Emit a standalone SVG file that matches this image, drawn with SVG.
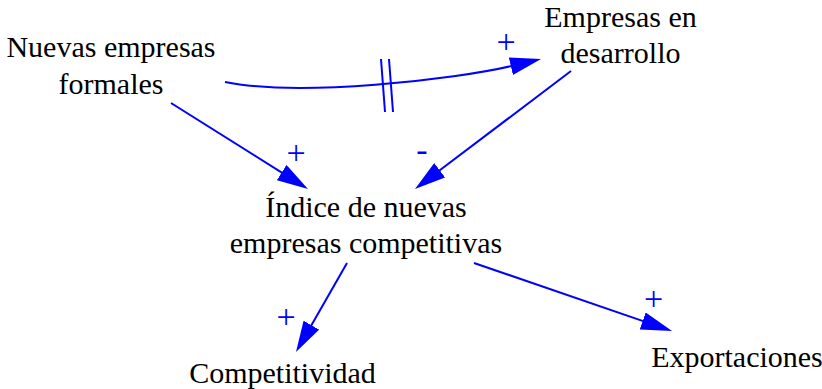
<svg xmlns="http://www.w3.org/2000/svg" width="822" height="389" viewBox="0 0 822 389">
<style>
.lbl{font-size:30px;fill:#000;text-anchor:middle}
.pol{font-size:34px;fill:#0000ff;text-anchor:middle}
.lnk{fill:none;stroke:#0000ff;stroke-width:2;marker-end:url(#ah)}
.dly{stroke:#0000ff;stroke-width:2}
</style>
<defs>
<marker id="ah" markerUnits="userSpaceOnUse" markerWidth="32" markerHeight="18" refX="2" refY="9" orient="auto" viewBox="0 0 32 18">
<path d="M0,0 L31,9 L0,18 z" fill="#0000ff"/>
</marker>
</defs>
<rect width="822" height="389" fill="#fff"/>
<g id="connectors" font-family="'Liberation Serif', 'Times New Roman', Times, serif">
<path class="lnk" d="M225,82 C300,97 454.4,79.6 512.8,65.7"/>
<line class="dly" x1="381" y1="59" x2="385" y2="112"/>
<line class="dly" x1="389" y1="59" x2="393" y2="112"/>
<path class="lnk" d="M171,103 L283.4,173.6"/>
<path class="lnk" d="M571,71 L438.1,171.5"/>
<path class="lnk" d="M347,263 L310.4,326.9"/>
<path class="lnk" d="M474,263 L644.6,321.6"/>
<text class="pol" x="506" y="53">+</text>
<text class="pol" x="296" y="164">+</text>
<text class="pol" x="422" y="161">-</text>
<text class="pol" x="286" y="328">+</text>
<text class="pol" x="653.5" y="310">+</text>
</g>
<g font-family="'Liberation Serif', 'Times New Roman', Times, serif">
<g id="nuevas-empresas-formales">
<text class="lbl" x="111" y="57">Nuevas empresas</text>
<text class="lbl" x="111" y="94">formales</text>
</g>
<g id="empresas-en-desarrollo">
<text class="lbl" x="620.5" y="27">Empresas en</text>
<text class="lbl" x="620.5" y="63">desarrollo</text>
</g>
<g id="indice">
<text class="lbl" x="366" y="217">Índice de nuevas</text>
<text class="lbl" x="366" y="253">empresas competitivas</text>
</g>
<g id="competitividad">
<text class="lbl" x="282.5" y="383">Competitividad</text>
</g>
<g id="exportaciones">
<text class="lbl" x="737" y="367">Exportaciones</text>
</g>
</g>
</svg>
